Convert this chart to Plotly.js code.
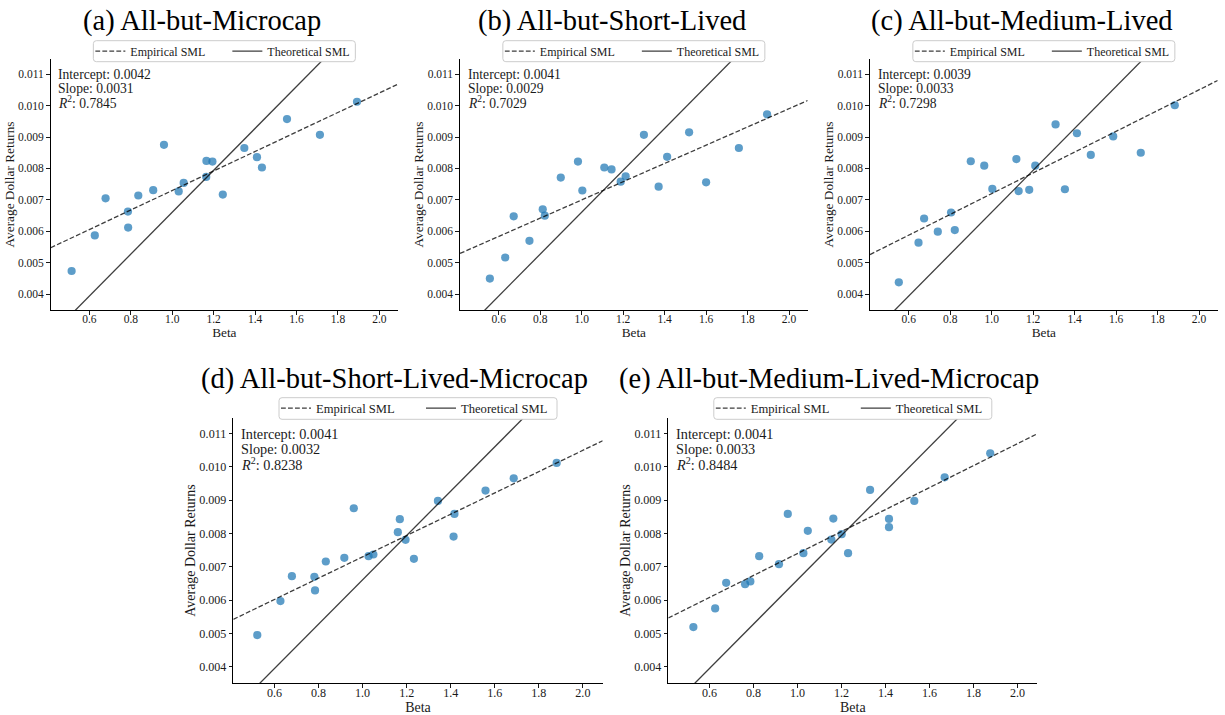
<!DOCTYPE html>
<html>
<head>
<meta charset="utf-8">
<script src="https://cdn.plot.ly/plotly-3.0.1.min.js"></script>
<style>
  html, body { margin: 0; padding: 0; background: #ffffff; }
  #chart { width: 1225px; height: 715px; }
</style>
</head>
<body>
<div id="chart"></div>
<script>
// Portfolio betas and average dollar returns for each sample
const panelTitles = [
  "(a) All-but-Microcap",
  "(b) All-but-Short-Lived",
  "(c) All-but-Medium-Lived",
  "(d) All-but-Short-Lived-Microcap",
  "(e) All-but-Medium-Lived-Microcap"
];

const betaA = [0.514, 0.626, 0.678, 0.786, 0.787, 0.836, 0.908, 0.960, 1.031, 1.055, 1.165, 1.194, 1.164, 1.244, 1.348, 1.409, 1.433, 1.554, 1.713, 1.892];
const retA  = [0.00474, 0.00587, 0.00705, 0.00663, 0.00612, 0.00714, 0.00731, 0.00875, 0.00727, 0.00754, 0.00824, 0.00822, 0.00773, 0.00717, 0.00865, 0.00836, 0.00803, 0.00957, 0.00907, 0.01012];

const betaB = [0.557, 0.631, 0.672, 0.748, 0.812, 0.822, 0.899, 0.982, 1.003, 1.109, 1.144, 1.188, 1.212, 1.300, 1.371, 1.412, 1.518, 1.600, 1.758, 1.894];
const retB  = [0.00450, 0.00517, 0.00648, 0.00570, 0.00670, 0.00650, 0.00771, 0.00822, 0.00730, 0.00803, 0.00797, 0.00758, 0.00775, 0.00907, 0.00742, 0.00837, 0.00915, 0.00756, 0.00865, 0.00972];

const betaC = [0.552, 0.647, 0.674, 0.740, 0.804, 0.822, 0.899, 0.964, 1.003, 1.119, 1.130, 1.181, 1.210, 1.308, 1.353, 1.411, 1.478, 1.586, 1.719, 1.883];
const retC  = [0.00438, 0.00564, 0.00641, 0.00599, 0.00660, 0.00604, 0.00823, 0.00809, 0.00735, 0.00830, 0.00728, 0.00732, 0.00809, 0.00940, 0.00734, 0.00912, 0.00843, 0.00902, 0.00850, 0.01001];

const betaD = [0.522, 0.627, 0.679, 0.781, 0.784, 0.833, 0.917, 0.960, 1.027, 1.049, 1.160, 1.169, 1.195, 1.233, 1.342, 1.417, 1.413, 1.558, 1.686, 1.881];
const retD  = [0.00495, 0.00597, 0.00672, 0.00670, 0.00629, 0.00716, 0.00727, 0.00876, 0.00732, 0.00737, 0.00804, 0.00843, 0.00781, 0.00724, 0.00898, 0.00859, 0.00791, 0.00929, 0.00966, 0.01012];

const betaE = [0.527, 0.626, 0.676, 0.762, 0.786, 0.826, 0.916, 0.956, 1.027, 1.047, 1.154, 1.163, 1.201, 1.230, 1.330, 1.416, 1.416, 1.531, 1.669, 1.876];
const retE  = [0.00519, 0.00575, 0.00652, 0.00648, 0.00656, 0.00732, 0.00708, 0.00859, 0.00741, 0.00808, 0.00782, 0.00845, 0.00798, 0.00741, 0.00931, 0.00844, 0.00819, 0.00898, 0.00969, 0.01041];

// Fitted (empirical) security market line statistics per sample
const intercepts = [0.0042, 0.0041, 0.0039, 0.0041, 0.0041];
const slopes     = [0.0031, 0.0029, 0.0033, 0.0032, 0.0033];
const rSquared   = [0.7845, 0.7029, 0.7298, 0.8238, 0.8484];

// Theoretical security market line (shared by all samples)
const theoryIntercept = -0.00005;
const theorySlope = 0.00666;

// Axis ticks and limits
const xTicks = [0.6, 0.8, 1.0, 1.2, 1.4, 1.6, 1.8, 2.0];
const yTicks = [0.004, 0.005, 0.006, 0.007, 0.008, 0.009, 0.010, 0.011];
const xLimits = [0.413, 2.09];
const yLimits = [0.0035, 0.01148];

const betas = [betaA, betaB, betaC, betaD, betaE];
const returns = [retA, retB, retC, retD, retE];

// Subplot placement on the page (paper fractions) and legend frame size (px)
const W = 1225, H = 715;
const panels = [
  { x: [0.04139, 0.32490], y: [0.5664, 0.9175], scale: 1.0,  boxHalf: 131, boxTop: 40.7,  boxBottom: 61.7 },
  { x: [0.37551, 0.65935], y: [0.5664, 0.9175], scale: 1.0,  boxHalf: 131, boxTop: 40.7,  boxBottom: 61.7 },
  { x: [0.71020, 0.99404], y: [0.5664, 0.9175], scale: 1.0,  boxHalf: 131, boxTop: 40.7,  boxBottom: 61.7 },
  { x: [0.19045, 0.49200], y: [0.0443, 0.4158], scale: 1.05, boxHalf: 139, boxTop: 397.7, boxBottom: 419.3 },
  { x: [0.54555, 0.84678], y: [0.0443, 0.4158], scale: 1.05, boxHalf: 139, boxTop: 397.7, boxBottom: 419.3 }
];
const titleCenters = [0.1653, 0.4993, 0.8340, 0.3220, 0.6769];

const FONT = "Liberation Serif, Times New Roman, serif";
const INK = "#1a1a1a";
const LINE_INK = "rgba(0,0,0,0.76)";
const DOT = "rgba(31,119,180,0.72)";

// Rounded rectangle path in paper coordinates (corner radius in px)
function roundedBox(leftPx, rightPx, topPx, bottomPx, r) {
  const x0 = leftPx / W, x1 = rightPx / W;
  const y0 = 1 - bottomPx / H, y1 = 1 - topPx / H;
  const rx = r / W, ry = r / H;
  return "M" + (x0 + rx) + "," + y0 +
    " L" + (x1 - rx) + "," + y0 +
    " Q" + x1 + "," + y0 + " " + x1 + "," + (y0 + ry) +
    " L" + x1 + "," + (y1 - ry) +
    " Q" + x1 + "," + y1 + " " + (x1 - rx) + "," + y1 +
    " L" + (x0 + rx) + "," + y1 +
    " Q" + x0 + "," + y1 + " " + x0 + "," + (y1 - ry) +
    " L" + x0 + "," + (y0 + ry) +
    " Q" + x0 + "," + y0 + " " + (x0 + rx) + "," + y0 + " Z";
}

const traces = [];
const layout = {
  width: W,
  height: H,
  margin: { l: 0, r: 0, t: 0, b: 0 },
  paper_bgcolor: "#ffffff",
  plot_bgcolor: "#ffffff",
  showlegend: true,
  font: { family: FONT, color: INK },
  annotations: [],
  shapes: []
};

panels.forEach((p, i) => {
  const n = i + 1;
  const xa = n === 1 ? "x" : "x" + n;
  const ya = n === 1 ? "y" : "y" + n;
  const legendId = n === 1 ? "legend" : "legend" + n;
  const s = p.scale;

  // Portfolio points
  traces.push({
    type: "scatter", mode: "markers",
    x: betas[i], y: returns[i],
    xaxis: xa, yaxis: ya,
    marker: { size: 8.2, color: DOT, line: { width: 0 } },
    showlegend: false, hoverinfo: "x+y"
  });

  // Empirical SML from the fitted intercept and slope
  traces.push({
    type: "scatter", mode: "lines",
    x: xLimits,
    y: xLimits.map(b => intercepts[i] + slopes[i] * b),
    xaxis: xa, yaxis: ya,
    line: { color: LINE_INK, width: 1.3, dash: "4.8px,2.2px" },
    name: "Empirical SML", legend: legendId, showlegend: true
  });

  // Theoretical SML
  const tx = [xLimits[0], xLimits[1]];
  traces.push({
    type: "scatter", mode: "lines",
    x: tx,
    y: tx.map(b => theoryIntercept + theorySlope * b),
    xaxis: xa, yaxis: ya,
    line: { color: LINE_INK, width: 1.3 },
    name: "Theoretical SML", legend: legendId, showlegend: true
  });

  const axisCommon = {
    showgrid: false, zeroline: false,
    showline: true, linecolor: "#000000", linewidth: 1.1, mirror: false,
    ticks: "outside", ticklen: 3.5, tickwidth: 0.9, tickcolor: "#000000",
    tickfont: { family: FONT, size: 11.5 * s, color: INK },
    automargin: false, fixedrange: true
  };

  layout["xaxis" + (n === 1 ? "" : n)] = Object.assign({}, axisCommon, {
    domain: p.x, anchor: ya, range: xLimits,
    tickvals: xTicks, ticktext: xTicks.map(v => v.toFixed(1)),
    ticklabelstandoff: -5,
    title: { text: "Beta", font: { family: FONT, size: 13.3 * s, color: INK }, standoff: 1 }
  });
  layout["yaxis" + (n === 1 ? "" : n)] = Object.assign({}, axisCommon, {
    domain: p.y, anchor: xa, range: yLimits,
    tickvals: yTicks, ticktext: yTicks.map(v => v.toFixed(3)),
    title: { text: "Average Dollar Returns", font: { family: FONT, size: 13.3 * s, color: INK }, standoff: 0 }
  });

  // Legend frame: white rounded box above the plotted lines
  const centerPx = (p.x[0] + p.x[1]) / 2 * W;
  const boxLeft = centerPx - p.boxHalf;
  const boxRight = centerPx + p.boxHalf;
  layout.shapes.push({
    type: "path", xref: "paper", yref: "paper", layer: "above",
    path: roundedBox(boxLeft, boxRight, p.boxTop, p.boxBottom, 3),
    fillcolor: "#ffffff", line: { color: "#cccccc", width: 1 }
  });

  layout[legendId] = {
    orientation: "h",
    xref: "paper", yref: "paper",
    x: (boxLeft - 3) / W, xanchor: "left",
    y: 1 - (p.boxTop + p.boxBottom) / 2 / H, yanchor: "middle",
    bgcolor: "rgba(0,0,0,0)", borderwidth: 0,
    font: { family: FONT, size: 12 * s, color: INK },
    itemwidth: 30, traceorder: "normal",
    entrywidth: s === 1 ? 92 : 100, entrywidthmode: "pixels"
  };

  // Panel title
  layout.annotations.push({
    xref: "paper", yref: "paper",
    x: titleCenters[i], xanchor: "center",
    y: p.y[1] + (i < 3 ? 0.053 : 0.0535), yanchor: "middle",
    text: panelTitles[i], showarrow: false,
    font: { family: FONT, size: 28.5, color: "#000000" }
  });

  // Fit statistics
  const statLines = [
    "Intercept: " + intercepts[i].toFixed(4),
    "Slope: " + slopes[i].toFixed(4),
    "<i>R</i><sup>2</sup>: " + rSquared[i].toFixed(4)
  ];
  const statY = [0.940, 0.883, 0.826];
  statLines.forEach((t, k) => {
    layout.annotations.push({
      xref: xa + " domain", yref: ya + " domain",
      x: 0.016, xanchor: "left",
      y: statY[k], yanchor: "middle",
      text: t, showarrow: false,
      font: { family: FONT, size: 13.6 * s, color: INK }
    });
  });
});

Plotly.newPlot("chart", traces, layout, { staticPlot: true, displayModeBar: false });
</script>
</body>
</html>
